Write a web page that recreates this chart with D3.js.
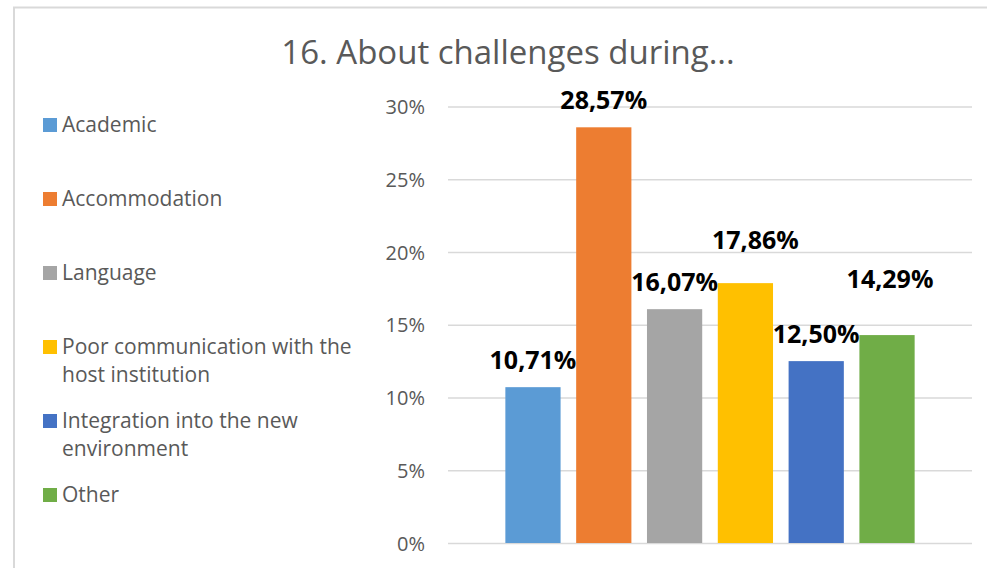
<!DOCTYPE html>
<html>
<head>
<meta charset="utf-8">
<script src="https://cdn.jsdelivr.net/npm/d3@7"></script>
<style>
  html, body { margin: 0; padding: 0; background: #fff; }
  svg { display: block; }
  text { font-family: "Open Sans", "Noto Sans", sans-serif; }
</style>
</head>
<body>
<svg id="chart" width="987" height="568"></svg>
<script>
// ---- data ----
const title = "16. About challenges during...";
const categories = [
  "Academic",
  "Accommodation",
  "Language",
  "Poor communication with the host institution",
  "Integration into the new environment",
  "Other"
];
const values = [0.1071, 0.2857, 0.1607, 0.1786, 0.1250, 0.1429];
const colors = ["#5B9BD5", "#ED7D31", "#A5A5A5", "#FFC000", "#4472C4", "#70AD47"];
const yTicks = [0, 0.05, 0.10, 0.15, 0.20, 0.25, 0.30];

// ---- layout ----
const W = 987, H = 568;
const plot = { left: 448, right: 972, top: 106.5, bottom: 543 };
// manual nudges of data labels (as placed in the original)
const labelNudge = [[0, 0], [0, 0], [0, 0], [10, -16], [0, 0], [3, -29]];

const svg = d3.select("#chart");

// chart border (left + top visible)
svg.append("rect")
  .attr("x", 14).attr("y", 7.5)
  .attr("width", 1000).attr("height", 600)
  .attr("fill", "#fff")
  .attr("stroke", "#d9d9d9").attr("stroke-width", 2);

// title
svg.append("text")
  .attr("x", 508).attr("y", 64)
  .attr("text-anchor", "middle")
  .attr("font-size", 33)
  .attr("fill", "#595959")
  .text(title);

const y = d3.scaleLinear().domain([0, 0.30]).range([plot.bottom, plot.top]);
const x = d3.scaleBand().domain(categories)
  .range([plot.left, plot.right])
  .paddingInner(0.22).paddingOuter(0.81);

// gridlines + axis labels
const yAxis = d3.axisLeft(y)
  .tickValues(yTicks)
  .tickFormat(d3.format(".0%"))
  .tickSize(-(plot.right - plot.left))
  .tickPadding(23);
const gy = svg.append("g")
  .attr("transform", `translate(${plot.left},0)`)
  .call(yAxis);
gy.select(".domain").remove();
gy.selectAll(".tick line").attr("stroke", "#d9d9d9").attr("stroke-width", 1.5);
gy.selectAll(".tick text")
  .attr("font-size", 20)
  .attr("fill", "#595959")
  .attr("font-family", "'Open Sans', sans-serif")
  .attr("dy", "0.36em");

// bars
svg.append("g").selectAll("rect")
  .data(values)
  .join("rect")
  .attr("x", (d, i) => x(categories[i]))
  .attr("y", d => y(d))
  .attr("width", x.bandwidth())
  .attr("height", d => y(0) - y(d))
  .attr("fill", (d, i) => colors[i]);

// data labels
const loc = d3.formatLocale({ decimal: ",", thousands: ".", grouping: [3], currency: ["", "€"] });
const fmt = loc.format(".2%");
svg.append("g").selectAll("text")
  .data(values)
  .join("text")
  .attr("x", (d, i) => x(categories[i]) + x.bandwidth() / 2 + labelNudge[i][0])
  .attr("y", (d, i) => y(d) - 18 + labelNudge[i][1])
  .attr("text-anchor", "middle")
  .attr("font-size", 25)
  .attr("font-weight", "bold")
  .attr("fill", "#000")
  .text(d => fmt(d));

// legend
const legend = svg.append("g");
const maxW = 300;
categories.forEach((c, i) => {
  const base = 132 + i * 74;
  legend.append("rect")
    .attr("x", 43).attr("y", base - 14)
    .attr("width", 14).attr("height", 14)
    .attr("fill", colors[i]);
  const t = legend.append("text")
    .attr("x", 62).attr("y", base)
    .attr("font-size", 21)
    .attr("fill", "#595959");
  // wrap words
  const words = c.split(" ");
  let line = [];
  let lineNo = 0;
  let ts = t.append("tspan").attr("x", 62).attr("y", base);
  words.forEach(w => {
    line.push(w);
    ts.text(line.join(" "));
    if (ts.node().getComputedTextLength() > maxW && line.length > 1) {
      line.pop();
      ts.text(line.join(" "));
      line = [w];
      lineNo++;
      ts = t.append("tspan").attr("x", 62).attr("y", base + lineNo * 27.5).text(w);
    }
  });
});
</script>
</body>
</html>
